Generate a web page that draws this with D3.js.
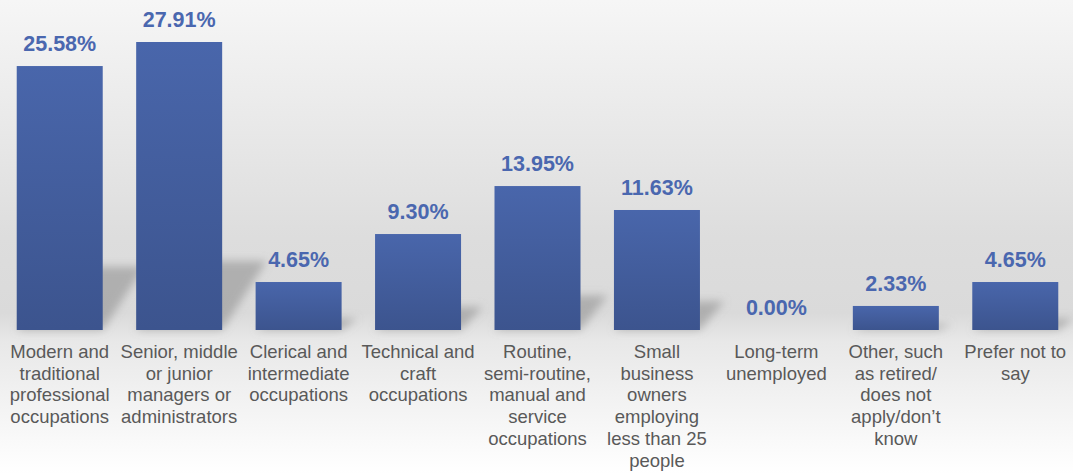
<!DOCTYPE html>
<html>
<head>
<meta charset="utf-8">
<script src="https://cdn.jsdelivr.net/npm/d3@7"></script>
<style>
  html, body { margin: 0; padding: 0; background: #fff; }
  svg { display: block; }
</style>
</head>
<body>
<svg id="chart" width="1073" height="474"></svg>
<script>
// Occupation groups (line breaks mark where each label wraps)
const categories = [
  "Modern and\ntraditional\nprofessional\noccupations",
  "Senior, middle\nor junior\nmanagers or\nadministrators",
  "Clerical and\nintermediate\noccupations",
  "Technical and\ncraft\noccupations",
  "Routine,\nsemi-routine,\nmanual and\nservice\noccupations",
  "Small\nbusiness\nowners\nemploying\nless than 25\npeople",
  "Long-term\nunemployed",
  "Other, such\nas retired/\ndoes not\napply/don\u2019t\nknow",
  "Prefer not to\nsay"
];
// Share of respondents, percent
const values = [25.58, 27.91, 4.65, 9.30, 13.95, 11.63, 0.00, 2.33, 4.65];

const W = 1073, H = 474;
const baseY = 330;
const svg = d3.select("#chart");
const defs = svg.append("defs");

// Soft grey backdrop, darkest just above the bar baseline
const bg = defs.append("linearGradient").attr("id", "bg")
  .attr("x1", 0).attr("y1", 0).attr("x2", 0).attr("y2", 1);
[[0, "#f6f6f6"], [0.5, "#dddddd"], [0.66, "#dadada"], [0.72, "#e8e8e8"], [1, "#ffffff"]]
  .forEach(([o, c]) => bg.append("stop").attr("offset", o).attr("stop-color", c));

// Bar fill: slightly lighter at the top
const bar = defs.append("linearGradient").attr("id", "barFill")
  .attr("x1", 0).attr("y1", 0).attr("x2", 0).attr("y2", 1);
[[0, "#4966ab"], [1, "#3c548e"]]
  .forEach(([o, c]) => bar.append("stop").attr("offset", o).attr("stop-color", c));

const blur = defs.append("filter").attr("id", "shadowBlur")
  .attr("x", "-50%").attr("y", "-50%").attr("width", "200%").attr("height", "200%");
blur.append("feGaussianBlur").attr("stdDeviation", 4.5);

svg.append("rect").attr("width", W).attr("height", H).attr("fill", "url(#bg)");

const x = d3.scaleBand()
  .domain(d3.range(categories.length))
  .range([0, 1075])
  .paddingInner(0.28)
  .paddingOuter(0.14);

const y = d3.scaleLinear().domain([0, 27.91]).range([baseY, 42]);

// Perspective shadows cast up and to the right of each bar
svg.append("g").attr("filter", "url(#shadowBlur)")
  .selectAll("path").data(values).join("path")
  .attr("fill", "#8a8a8a")
  .attr("fill-opacity", 0.55)
  .attr("d", (d, i) => {
    const h = baseY - y(d);
    if (h <= 0) return null;
    const x0 = x(i), x1 = x(i) + x.bandwidth();
    const sh = h * 0.24, dx = h * 0.12 + 10;
    return `M${x0},${baseY} L${x1},${baseY} L${x1 + dx},${baseY - sh} L${x0 + dx},${baseY - sh} Z`;
  });

svg.append("g").selectAll("rect").data(values).join("rect")
  .attr("x", (d, i) => x(i))
  .attr("y", d => y(d))
  .attr("width", x.bandwidth())
  .attr("height", d => baseY - y(d))
  .attr("fill", "url(#barFill)");

// Value labels above bars
svg.append("g").selectAll("text").data(values).join("text")
  .attr("x", (d, i) => x(i) + x.bandwidth() / 2)
  .attr("y", d => y(d) - 15)
  .attr("text-anchor", "middle")
  .attr("font-family", "Liberation Sans, Arial, sans-serif")
  .attr("font-weight", "bold")
  .attr("font-size", "21.5px")
  .attr("fill", "#4a67af")
  .text(d => d.toFixed(2) + "%");

// Category labels below the baseline
const catG = svg.append("g")
  .attr("font-family", "Liberation Sans, Arial, sans-serif")
  .attr("font-size", "18.5px")
  .attr("fill", "#595959")
  .attr("text-anchor", "middle");

catG.selectAll("text").data(categories).join("text")
  .attr("x", (d, i) => x(i) + x.bandwidth() / 2)
  .attr("y", 358)
  .each(function (d, i) {
    const t = d3.select(this);
    d.split("\n").forEach((line, j) => {
      t.append("tspan")
        .attr("x", x(i) + x.bandwidth() / 2)
        .attr("y", 358 + j * 21.7)
        .text(line);
    });
  });
</script>
</body>
</html>
